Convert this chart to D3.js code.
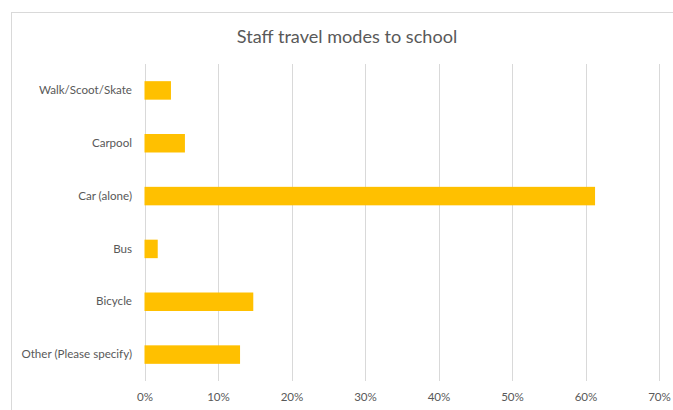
<!DOCTYPE html>
<html><head><meta charset="utf-8">
<script src="https://cdn.jsdelivr.net/npm/d3@7"></script>
<style>body{margin:0;background:#fff}svg{display:block}</style>
</head><body>
<svg id="chart" width="673" height="410"></svg>
<script>
const categories = ["Walk/Scoot/Skate","Carpool","Car (alone)","Bus","Bicycle","Other (Please specify)"];
const values = [0.036, 0.055, 0.613, 0.018, 0.148, 0.130];
const tickValues = [0,0.1,0.2,0.3,0.4,0.5,0.6,0.7];
const title = "Staff travel modes to school";

const svg = d3.select("#chart");
const font = "Lato, Carlito, 'Liberation Sans', sans-serif";

svg.append("rect").attr("x",11.5).attr("y",12.5).attr("width",680).attr("height",420)
  .attr("fill","#fff").attr("stroke","#d9d9d9");

svg.append("text").attr("x",347).attr("y",43).attr("text-anchor","middle")
  .attr("font-family",font).attr("font-size",18.1).attr("fill","#595959").text(title);

const x = d3.scaleLinear().domain([0,0.7]).range([144.5,659]);
const y = d3.scaleBand().domain(categories).range([64,381]).paddingInner(0.65).paddingOuter(0.325);

const grid = svg.append("g");
grid.selectAll("line").data(tickValues).join("line")
  .attr("x1",d=>Math.round(x(d))+0.5).attr("x2",d=>Math.round(x(d))+0.5)
  .attr("y1",64).attr("y2",381).attr("stroke","#d9d9d9").attr("stroke-width",1);

svg.append("g").selectAll("rect").data(categories).join("rect")
  .attr("x",x(0)).attr("y",d=>y(d))
  .attr("width",(d,i)=>x(values[i])-x(0)).attr("height",y.bandwidth())
  .attr("fill","#FFC000");

const xAxis = d3.axisBottom(x).tickValues(tickValues).tickFormat(d3.format(".0%")).tickSize(0).tickPadding(0);
const gx = svg.append("g").attr("transform","translate(0,393)").call(xAxis);
gx.select(".domain").remove();
gx.selectAll("text").attr("font-family",font).attr("font-size",11.6).attr("fill","#595959");

const yAxis = d3.axisLeft(y).tickSize(0).tickPadding(0);
const gy = svg.append("g").attr("transform","translate(132,0)").call(yAxis);
gy.select(".domain").remove();
gy.selectAll("text").attr("font-family",font).attr("font-size",11.6).attr("fill","#595959");
</script>
</body></html>
